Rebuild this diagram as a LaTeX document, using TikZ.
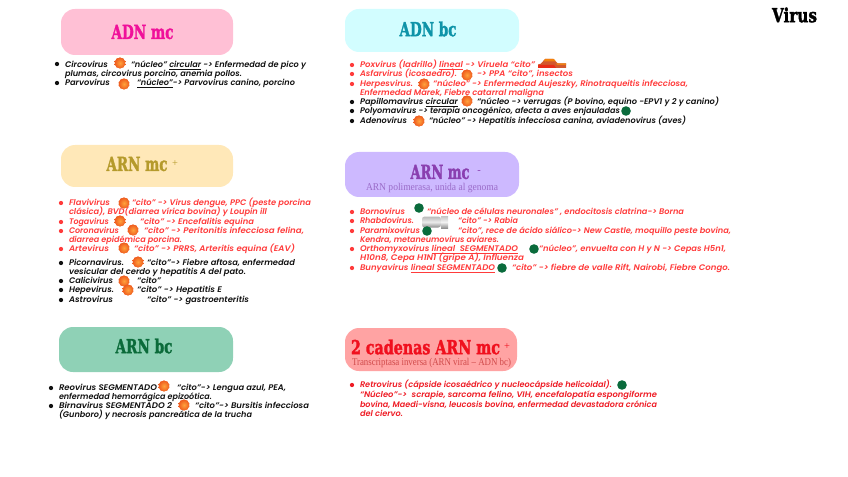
\documentclass[tikz,border=0pt]{standalone}
\usepackage{fontspec}
\usepackage{graphicx}
\usetikzlibrary{shapes.geometric}
\newfontfamily\bodyfont{Poppins SemiBold Italic}
\newfontfamily\headfont{DejaVu Serif}[BoldFeatures={FakeBold=2}]
\newfontfamily\subfont{Liberation Serif}
\newlength\pxu \setlength\pxu{0.75pt}
\newcounter{tn}
\definecolor{redt}{HTML}{FF3B3B}
\definecolor{redd}{HTML}{EE1C25}
\definecolor{blk}{HTML}{111111}
\definecolor{grnb}{HTML}{0A6B3C}
\definecolor{orbin}{HTML}{FFA23C}
\definecolor{orbout}{HTML}{EE5A1E}
\tikzset{
  x=0.75pt,y=-0.75pt,
  hbox/.style={rounded corners=10.5pt,draw=none},
  line/.style={anchor=base west,inner sep=0pt,outer sep=0pt,font=\bodyfont\fontsize{6.1pt}{7pt}\selectfont},
  head/.style={inner sep=0pt,font=\headfont\bfseries\fontsize{14.5pt}{16pt}\selectfont},
  sub/.style={inner sep=0pt,font=\subfont\fontsize{7.8pt}{9pt}\selectfont},
  dot/.style={circle,inner sep=0pt,minimum size=3.2pt},
  orb/.style={star,star points=10,star point ratio=1.12,inner sep=0pt,minimum size=8.6pt,shading=radial,inner color=orbin,outer color=orbout},
  grn/.style={circle,fill=grnb,inner sep=0pt,minimum size=7.2pt},
}
\newcommand\tl[5]{\stepcounter{tn}\node[line,text=#1] (t\thetn) at (#2,#3+2.4) {\resizebox{#4\pxu}{\height}{#5}};}
\newcommand\bl[3]{\stepcounter{tn}\node[dot,fill=#1] (b\thetn) at (#2,#3) {};}
\newcommand\og[2]{\stepcounter{tn}\node[orb] (o\thetn) at (#1,#2) {};}
\newcommand\gr[2]{\stepcounter{tn}\node[grn] (g\thetn) at (#1,#2) {};}
\begin{document}
\begin{tikzpicture}
\useasboundingbox (0,0) rectangle (848,477);
% header boxes
\fill[hbox,fill={rgb,255:red,255;green,192;blue,213}] (61,9) rectangle (233,55);
\fill[hbox,fill={rgb,255:red,210;green,253;blue,255}] (345,9) rectangle (519,52);
\fill[hbox,fill={rgb,255:red,255;green,232;blue,184}] (61,145) rectangle (233,187);
\fill[hbox,fill={rgb,255:red,205;green,185;blue,255}] (345,152) rectangle (519,197);
\fill[hbox,fill={rgb,255:red,143;green,209;blue,182}] (59,327) rectangle (233,372);
\fill[hbox,fill={rgb,255:red,255;green,163;blue,163}] (345,328) rectangle (517,371);
% headings
\node[head,text={rgb,255:red,240;green,16;blue,154}] (h1) at (142.5,32) {\resizebox{62\pxu}{\height}{ADN mc}};
\node[head,text={rgb,255:red,14;green,147;blue,168}] (h2) at (428,29) {\resizebox{57\pxu}{\height}{ADN bc}};
\node[head,text={rgb,255:red,181;green,154;blue,43}] (h3) at (137,164) {\resizebox{61\pxu}{\height}{ARN mc}};
\node[sub,text={rgb,255:red,181;green,154;blue,43}] (h3p) at (175,164) {+};
\node[head,text={rgb,255:red,138;green,63;blue,176}] (h4) at (440,172) {\resizebox{59\pxu}{\height}{ARN mc}};
\node[sub,text={rgb,255:red,138;green,63;blue,176}] (h4m) at (479,172) {-};
\node[sub,text={rgb,255:red,154;green,107;blue,200}] (h4s) at (432,188) {\resizebox{132\pxu}{\height}{ARN polimerasa, unida al genoma}};
\node[head,text={rgb,255:red,11;green,107;blue,58}] (h5) at (144,346) {\resizebox{57\pxu}{\height}{ARN bc}};
\node[head,text={rgb,255:red,240;green,16;blue,30}] (h6) at (425.5,347) {\resizebox{149\pxu}{\height}{2 cadenas ARN mc}};
\node[sub,text={rgb,255:red,240;green,16;blue,30}] (h6p) at (507,347) {+};
\node[sub,text={rgb,255:red,208;green,74;blue,74}] (h6s) at (431.5,363) {\resizebox{159\pxu}{\height}{Transcriptasa inversa (ARN viral – ADN bc)}};
\node[head,text=black] (v) at (794.5,15) {\resizebox{45\pxu}{\height}{Virus}};
% ADN mc
\bl{blk}{57}{64}\bl{blk}{57}{83}
\tl{blk}{65}{65}{43}{Circovirus}\og{120}{63}
\tl{blk}{131}{65}{175}{“núcleo” \underline{circular} -> Enfermedad de pico y}
\tl{blk}{65}{74}{177}{plumas, circovirus porcino, anemia pollos.}
\tl{blk}{65}{83}{45}{Parvovirus}\og{124}{84}
\tl{blk}{137}{83}{158}{\underline{“núcleo”}-> Parvovirus canino, porcino}
% ADN bc
\foreach \yy in {65,74,84}{\bl{redt}{352}{\yy}}
\foreach \yy in {102,111,121}{\bl{blk}{352}{\yy}}
\tl{redt}{360}{65}{175}{Poxvirus (ladrillo) \underline{lineal} -> Viruela “cito”}
\tl{redt}{360}{74}{97}{Asfarvirus (icosaedro).}\og{467}{75}
\tl{redt}{477}{74}{96}{-> PPA “cito”, insectos}
\tl{redt}{360}{84}{53}{Herpesvirus.}\og{424}{84}
\tl{redt}{433}{84}{255}{“núcleo” -> Enfermedad Aujeszky, Rinotraqueitis infecciosa,}
\tl{redt}{360}{93}{184}{Enfermedad Marek, Fiebre catarral maligna}
\tl{blk}{360}{102}{98}{Papillomavirus \underline{circular}}\og{467}{101}
\tl{blk}{477}{102}{242}{“núcleo -> verrugas (P bovino, equino -EPV1 y 2 y canino)}
\tl{blk}{360}{111}{260}{Polyomavirus -> terapia oncogénico, afecta a aves enjauladas}\gr{626}{111}
\tl{blk}{360}{121}{47}{Adenovirus}\og{419}{121}
\tl{blk}{429}{121}{257}{“núcleo” -> Hepatitis infecciosa canina, aviadenovirus (aves)}
% brick
\fill[brown!70!red] (538,68) -- (566,68) -- (566,63.5) -- (558,63.5) -- (553,59) -- (545,59) -- (541,63.5) -- (538,64.5) -- cycle;
\fill[orange!80!brown] (545,59) -- (554,59) -- (556,61.5) -- (543.5,61.5) -- cycle;
\fill[red!65!brown] (538,65) -- (554,65) -- (556,68) -- (538,68) -- cycle;
\fill[orange!70!brown] (556,63.5) -- (566,63.5) -- (566,65) -- (557,65) -- cycle;
% ARN mc +
\foreach \yy in {203,222,231,249}{\bl{redt}{61}{\yy}}
\foreach \yy in {263,281,290,300}{\bl{blk}{61}{\yy}}
\tl{redt}{69}{203}{41}{Flavivirus}\og{124}{203}
\tl{redt}{132}{203}{179}{“cito” -> Virus dengue, PPC (peste porcina}
\tl{redt}{69}{212}{198}{clásica), BVD(diarrea vírica bovina) y Loupin ill}
\tl{redt}{69}{222}{40}{Togavirus}\og{120}{221}
\tl{redt}{140}{222}{114}{“cito” -> Encefalitis equina}
\tl{redt}{69}{231}{50}{Coronavirus}\og{133}{230}
\tl{redt}{144}{231}{160}{“cito” -> Peritonitis infecciosa felina,}
\tl{redt}{69}{240}{113}{diarrea epidémica porcina.}
\tl{redt}{69}{249}{40}{Artevirus}\og{124}{248}
\tl{redt}{134}{249}{161}{“cito” -> PRRS, Arteritis equina (EAV)}
\tl{blk}{69}{263}{55}{Picornavirus.}\og{138}{262}
\tl{blk}{147}{263}{148}{“cito”-> Fiebre aftosa, enfermedad}
\tl{blk}{69}{272}{177}{vesicular del cerdo y hepatitis A del pato.}
\tl{blk}{69}{281}{44}{Calicivirus}\og{124}{281}
\tl{blk}{137}{281}{24}{“cito”}
\tl{blk}{69}{290}{45}{Hepevirus.}\og{128}{290}
\tl{blk}{137}{290}{85}{“cito” -> Hepatitis E}
\tl{blk}{69}{300}{44}{Astrovirus}
\tl{blk}{147}{300}{102}{“cito” -> gastroenteritis}
% ARN mc -
\foreach \yy in {212,221,231,249,268}{\bl{redt}{352}{\yy}}
\tl{redt}{360}{212}{45}{Bornovirus}\gr{419}{208}
\tl{redt}{427}{212}{257}{“núcleo de células neuronales” , endocitosis clatrina-> Borna}
\tl{redt}{360}{221}{54}{Rhabdovirus.}
\shade[top color=gray!55,bottom color=gray!90,middle color=gray!15,rounded corners=2pt] (422,216.5) rectangle (441,227.5);
\shade[top color=gray!45,bottom color=gray!85,middle color=gray!10] (441,216) rectangle (448,228);
\tl{redt}{458}{221}{60}{“cito” -> Rabia}
\tl{redt}{360}{231}{60}{Paramixovirus}\gr{427}{231}
\tl{redt}{458}{231}{273}{“cito”, rece de ácido siálico-> New Castle, moquillo peste bovina,}
\tl{redt}{360}{240}{139}{Kendra, metaneumovirus aviares.}
\tl{redt}{360}{249}{158}{Orthomyxovirus \underline{lineal\ \ SEGMENTADO}}\gr{534}{249}
\tl{redt}{539}{249}{187}{“núcleo”, envuelta con H y N -> Cepas H5n1,}
\tl{redt}{360}{258}{164}{H10n8, Cepa H1N1 (gripe A), Influenza}
\tl{redt}{360}{268}{135}{Bunyavirus \underline{lineal SEGMENTADO}}\gr{502}{268}
\tl{redt}{512}{268}{218}{“cito” -> fiebre de valle Rift, Nairobi, Fiebre Congo.}
% ARN bc
\bl{blk}{51}{388}\bl{blk}{51}{406}
\tl{blk}{59}{388}{98}{Reovirus SEGMENTADO}\og{164}{386}
\tl{blk}{177}{388}{109}{“cito”-> Lengua azul, PEA,}
\tl{blk}{59}{397}{153}{enfermedad hemorrágica epizoótica.}
\tl{blk}{59}{406}{113}{Birnavirus SEGMENTADO 2}\og{184}{405}
\tl{blk}{195}{406}{114}{“cito”-> Bursitis infecciosa}
\tl{blk}{59}{415}{193}{(Gunboro) y necrosis pancreática de la trucha}
% 2 cadenas
\bl{redd}{352}{385}
\tl{redd}{360}{385}{252}{Retrovirus (cápside icosaédrico y nucleocápside helicoidal).}\gr{622}{385}
\tl{redd}{360}{395}{297}{“Núcleo”->\ \ scrapie, sarcoma felino, VIH, encefalopatía espongiforme}
\tl{redd}{360}{405}{297}{bovina, Maedi-visna, leucosis bovina, enfermedad devastadora crónica}
\tl{redd}{360}{414}{43}{del ciervo.}
\end{tikzpicture}
\end{document}
